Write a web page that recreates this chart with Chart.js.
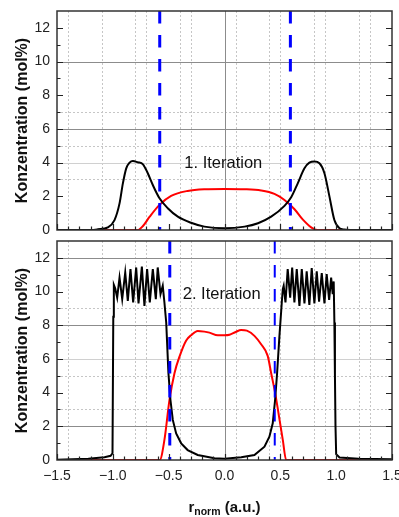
<!DOCTYPE html>
<html>
<head>
<meta charset="utf-8">
<script src="https://cdn.jsdelivr.net/npm/chart.js@4.4.1/dist/chart.umd.min.js"></script>
<style>
  html, body { margin: 0; padding: 0; background: #fff; }
  #wrap { position: relative; width: 399px; height: 517px; }
  canvas { position: absolute; left: 0; }
</style>
</head>
<body>
<div id="wrap">
  <canvas id="oben" width="399" height="236" style="top:0;width:399px;height:236px"></canvas>
  <canvas id="unten" width="399" height="281" style="top:236px;width:399px;height:281px"></canvas>
</div>
<script>
const FONT = "'Liberation Sans', Arial, sans-serif";

// Achsen
const xTicks = [-1.5, -1.0, -0.5, 0.0, 0.5, 1.0, 1.5];
const yTicks = [0, 2, 4, 6, 8, 10, 12];

// 1. Iteration
const r1Schwarz = [-1.5, -1.2, -1.135, -1.045, -0.985, -0.94, -0.91, -0.88, -0.85, -0.82, -0.777, -0.73, -0.687, -0.642, -0.582, -0.508, -0.418, -0.3, -0.18, 0.0, 0.18, 0.3, 0.418, 0.537, 0.597, 0.656, 0.716, 0.76, 0.805, 0.85, 0.895, 0.94, 0.984, 1.03, 1.07, 1.2, 1.5];
const k1Schwarz = [0, 0, 0.04, 0.16, 0.59, 1.58, 2.77, 3.66, 4.0, 4.1, 4.02, 3.9, 3.37, 2.67, 1.88, 1.29, 0.79, 0.43, 0.2, 0.1, 0.2, 0.4, 0.79, 1.43, 1.94, 2.77, 3.66, 4.0, 4.06, 3.96, 3.37, 1.98, 0.59, 0.1, 0.03, 0, 0];
const r1Rot = [-1.5, -0.777, -0.73, -0.67, -0.582, -0.478, -0.33, -0.18, 0.0, 0.18, 0.328, 0.447, 0.537, 0.627, 0.7, 0.776, 0.83, 1.5];
const k1Rot = [0, 0, 0.24, 0.79, 1.49, 2.02, 2.32, 2.42, 2.44, 2.42, 2.34, 2.14, 1.78, 1.23, 0.63, 0.16, 0, 0];
const grenze1 = [-0.58, 0.59];

// 2. Iteration
const r2Schwarz = [-1.5, -1.22, -1.075, -1.02, -1.003, -0.996, -0.991, -0.979, -0.961, -0.94, -0.916, -0.889, -0.866, -0.842, -0.818, -0.791, -0.77, -0.74, -0.717, -0.693, -0.669, -0.642, -0.615, -0.598, -0.573, -0.553, -0.538, -0.522, -0.502, -0.484, -0.463, -0.433, -0.388, -0.33, -0.24, -0.09, 0, 0.15, 0.268, 0.358, 0.402, 0.432, 0.453, 0.471, 0.492, 0.513, 0.522, 0.53, 0.546, 0.566, 0.588, 0.606, 0.626, 0.647, 0.671, 0.692, 0.716, 0.736, 0.76, 0.781, 0.805, 0.826, 0.847, 0.871, 0.895, 0.915, 0.937, 0.955, 0.969, 0.978, 0.984, 0.989, 0.994, 1.0, 1.03, 1.2, 1.5];
const k2Schwarz = [0.02, 0.07, 0.16, 0.25, 0.4, 8.5, 10.4, 10.2, 9.64, 10.83, 9.55, 11.13, 9.45, 11.33, 9.35, 11.43, 9.3, 11.48, 9.15, 11.33, 9.35, 11.33, 9.55, 11.43, 9.85, 10.34, 9.35, 8.16, 5.15, 3.56, 2.38, 1.58, 0.99, 0.59, 0.3, 0.1, 0.08, 0.16, 0.3, 0.79, 1.38, 2.18, 3.56, 5.15, 7.37, 9.35, 10.14, 10.34, 9.35, 11.33, 9.64, 11.43, 9.35, 11.33, 9.15, 11.33, 9.3, 11.2, 9.2, 11.4, 9.3, 11.2, 9.4, 11.1, 9.3, 11.03, 9.5, 10.83, 9.84, 10.6, 8.16, 5.0, 2.0, 0.35, 0.15, 0.08, 0.05];
const r2Rot = [-1.5, -0.58, -0.538, -0.493, -0.448, -0.403, -0.343, -0.3, -0.24, -0.18, -0.135, -0.06, 0.0, 0.045, 0.1, 0.149, 0.2, 0.268, 0.328, 0.387, 0.418, 0.453, 0.483, 0.522, 0.552, 1.5];
const k2Rot = [0, 0, 1.19, 3.56, 5.15, 6.14, 7.1, 7.4, 7.66, 7.62, 7.56, 7.4, 7.4, 7.43, 7.6, 7.72, 7.68, 7.37, 6.87, 6.18, 5.15, 4.0, 2.8, 1.19, 0, 0];
const grenze2 = [-0.49, 0.45];

// Hilfslinien
const gitterX = [-1.4, -1.1, -0.8, -0.7, -0.4, -0.3, 0.1, 0.4, 0.5, 0.8, 0.9, 1.2, 1.3];
const gitter1Linie = [10, 6];
const gitter1Hell = [4];
const gitter1Punkt = [7, 5, 3];
const gitter2Linie = [12, 8, 2];
const gitter2Hell = [6];
const gitter2Punkt = [9, 5, 3];

const pts = (xs, ys) => xs.map((v, i) => ({ x: v, y: ys[i] }));

function grenzLinie(x, breite) {
  return {
    data: [{ x: x, y: 13 }, { x: x, y: 0 }],
    borderColor: '#0000ff',
    borderWidth: breite,
    borderDash: [12.5, 11.5],
    tension: 0
  };
}

function dekor(g) {
  return {
    id: 'dekor',
    beforeDatasetsDraw(chart) {
      const { ctx, chartArea: a, scales: { x, y } } = chart;
      ctx.save();
      ctx.lineWidth = 1;
      const vert = v => {
        const px = Math.round(x.getPixelForValue(v)) + 0.5;
        ctx.beginPath(); ctx.moveTo(px, a.top); ctx.lineTo(px, a.bottom); ctx.stroke();
      };
      const hori = v => {
        const py = Math.round(y.getPixelForValue(v)) + 0.5;
        ctx.beginPath(); ctx.moveTo(a.left, py); ctx.lineTo(a.right, py); ctx.stroke();
      };
      ctx.setLineDash([2, 2]);
      ctx.strokeStyle = '#c6c6c6';
      gitterX.forEach(vert);
      g.punkt.forEach(hori);
      ctx.setLineDash([]);
      ctx.strokeStyle = '#d0d0d0';
      g.hell.forEach(hori);
      ctx.strokeStyle = '#8c8c8c';
      g.linie.forEach(hori);
      vert(0);
      ctx.restore();
    },
    afterDatasetsDraw(chart) {
      const { ctx, chartArea: a, scales: { x, y } } = chart;
      ctx.save();
      // Beschriftung im Plot
      ctx.fillStyle = '#111';
      ctx.font = '16.5px ' + FONT;
      ctx.textBaseline = 'middle';
      ctx.textAlign = 'left';
      ctx.fillText(g.text, x.getPixelForValue(g.textPos[0]), y.getPixelForValue(g.textPos[1]));

      // Rahmen
      ctx.strokeStyle = '#333';
      ctx.lineWidth = 1.5;
      ctx.strokeRect(a.left, a.top, a.width, a.height);

      // Teilstriche nach innen
      ctx.lineWidth = 1.2;
      ctx.strokeStyle = '#222';
      for (let i = 0; i <= 30; i++) {
        const v = -1.5 + i * 0.1;
        const len = (i % 5 === 0) ? 6 : 3.5;
        const px = Math.round(x.getPixelForValue(v)) + 0.5;
        ctx.beginPath(); ctx.moveTo(px, a.bottom); ctx.lineTo(px, a.bottom - len); ctx.stroke();
      }
      for (let v = 1; v <= 12; v++) {
        const len = (v % 2 === 0) ? 6 : 3.5;
        const py = Math.round(y.getPixelForValue(v)) + 0.5;
        ctx.beginPath();
        ctx.moveTo(a.left, py); ctx.lineTo(a.left + len, py);
        ctx.moveTo(a.right, py); ctx.lineTo(a.right - len, py);
        ctx.stroke();
      }
      ctx.restore();
    },
    afterDraw(chart) {
      if (!g.xTitel) return;
      const { ctx, chartArea: a } = chart;
      ctx.save();
      ctx.fillStyle = '#111';
      ctx.textBaseline = 'alphabetic';
      ctx.textAlign = 'left';
      const fHaupt = 'bold 15px ' + FONT;
      const fTief = 'bold 10.5px ' + FONT;
      ctx.font = fHaupt;
      const w1 = ctx.measureText('r').width;
      const w3 = ctx.measureText(' (a.u.)').width;
      ctx.font = fTief;
      const w2 = ctx.measureText('norm').width;
      let px = (a.left + a.right) / 2 - (w1 + w2 + w3) / 2;
      const base = chart.height - 5;
      ctx.font = fHaupt;
      ctx.fillText('r', px, base);
      px += w1;
      ctx.font = fTief;
      ctx.fillText('norm', px, base + 3);
      px += w2;
      ctx.font = fHaupt;
      ctx.fillText(' (a.u.)', px, base);
      ctx.restore();
    }
  };
}

function baueChart(id, cfg) {
  return new Chart(document.getElementById(id), {
    type: 'line',
    data: {
      datasets: [
        grenzLinie(cfg.grenze[0], cfg.blauBreite[0]),
        grenzLinie(cfg.grenze[1], cfg.blauBreite[1]),
        { data: cfg.schwarz, borderColor: '#000', borderWidth: 2, tension: 0, cubicInterpolationMode: cfg.glatt ? 'monotone' : 'default' },
        { data: cfg.rot, borderColor: '#ff0000', borderWidth: 2, cubicInterpolationMode: 'monotone' }
      ]
    },
    options: {
      responsive: false,
      maintainAspectRatio: false,
      animation: false,
      devicePixelRatio: 1,
      layout: { padding: cfg.padding },
      elements: { point: { radius: 0 } },
      plugins: { legend: { display: false }, tooltip: { enabled: false } },
      scales: {
        x: {
          type: 'linear', min: -1.5, max: 1.5,
          display: cfg.xBeschriftung,
          afterFit: s => {
            s.height = cfg.xBeschriftung ? 57 : 0;
            s.paddingLeft = 0;
            s.paddingRight = 0;
          },
          afterBuildTicks: s => { s.ticks = xTicks.map(v => ({ value: v })); },
          grid: { display: false, drawTicks: false },
          border: { display: false },
          ticks: {
            autoSkip: false, maxRotation: 0, padding: 8,
            color: '#222', font: { size: 14, family: FONT },
            callback: v => v.toFixed(1).replace('-', '\u2212')
          }
        },
        y: {
          type: 'linear', min: 0, max: 13,
          afterFit: s => {
            s.width = 57;
            s.paddingTop = 0;
            s.paddingBottom = 0;
          },
          afterBuildTicks: s => { s.ticks = yTicks.map(v => ({ value: v })); },
          grid: { display: false, drawTicks: false },
          border: { display: false },
          ticks: { padding: 7, color: '#222', font: { size: 14, family: FONT } },
          title: {
            display: true, text: 'Konzentration (mol%)', color: '#111',
            font: { size: 16, weight: 'bold', family: FONT },
            padding: { top: 13, bottom: 0 }
          }
        }
      }
    },
    plugins: [dekor(cfg.dekor)]
  });
}

baueChart('oben', {
  grenze: grenze1, blauBreite: [3, 3], glatt: true,
  schwarz: pts(r1Schwarz, k1Schwarz), rot: pts(r1Rot, k1Rot),
  padding: { top: 11, right: 7, bottom: 6, left: 0 },
  xBeschriftung: false,
  dekor: { linie: gitter1Linie, hell: gitter1Hell, punkt: gitter1Punkt, text: '1. Iteration', textPos: [-0.36, 3.96], xTitel: false }
});

baueChart('unten', {
  grenze: grenze2, blauBreite: [3, 2], glatt: false,
  schwarz: pts(r2Schwarz, k2Schwarz), rot: pts(r2Rot, k2Rot),
  padding: { top: 5, right: 7, bottom: 0, left: 0 },
  xBeschriftung: true,
  dekor: { linie: gitter2Linie, hell: gitter2Hell, punkt: gitter2Punkt, text: '2. Iteration', textPos: [-0.374, 9.85], xTitel: true }
});
</script>
</body>
</html>
